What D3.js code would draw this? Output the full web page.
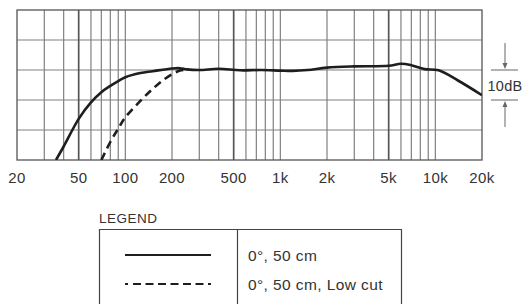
<!DOCTYPE html>
<html><head><meta charset="utf-8">
<script src="https://cdn.jsdelivr.net/npm/d3@7/dist/d3.min.js"></script>
<style>html,body{margin:0;padding:0;background:#fff;}svg{display:block;}</style>
</head><body>
<svg id="c" width="524" height="304"></svg>
<script>
// ---- data ----
const tickFreqs = [20, 50, 100, 200, 500, 1000, 2000, 5000, 10000, 20000];
const tickLabels = ["20", "50", "100", "200", "500", "1k", "2k", "5k", "10k", "20k"];
const gridFreqs = [30,40,50,60,70,80,90,100,200,300,400,500,600,700,800,900,1000,2000,3000,4000,5000,6000,7000,8000,9000,10000];
const majorGrid = [50, 500, 5000];
const dbGrid = [-20, -10, 0, 10];
const solidFreq = [35.7, 40, 50, 60, 70, 80, 90, 100, 125, 150, 200, 225, 250, 300, 400, 550, 750, 1000, 1200, 1500, 2000, 3000, 5000, 6000, 7000, 8500, 10500, 14000, 20000];
const solidDb   = [-30, -25.5, -16.3, -10.8, -7.4, -5.3, -3.7, -2.4, -1.0, -0.4, 0.5, 0.6, 0.2, 0, 0.4, -0.1, 0, -0.2, -0.3, 0, 0.8, 1.2, 1.4, 2.1, 1.6, 0.3, -0.1, -3.5, -8.4];
const dashFreq = [70, 80, 90, 100, 125, 150, 175, 200, 225, 250];
const dashDb   = [-30, -24, -19.5, -15.8, -10.3, -6.3, -3.4, -1.4, -0.2, 0.2];
const legendLabels = ["0°, 50 cm", "0°, 50 cm, Low cut"];

const svg = d3.select("#c");
const font = "Liberation Sans, Arial, sans-serif";
const L = 17, R = 482, T = 10, B = 160;
const x = d3.scaleLog().domain([20, 20000]).range([L, R]);
const y = d3.scaleLinear().domain([-30, 20]).range([B, T]);

// grid
const g = svg.append("g");
g.selectAll("line.h").data(dbGrid).enter().append("line")
  .attr("x1", L).attr("x2", R).attr("y1", d => y(d)).attr("y2", d => y(d))
  .attr("stroke", "#808080").attr("stroke-width", 1.2);
g.selectAll("line.v").data(gridFreqs).enter().append("line")
  .attr("x1", d => x(d)).attr("x2", d => x(d)).attr("y1", T).attr("y2", B)
  .attr("stroke", d => majorGrid.includes(d) ? "#555" : "#808080")
  .attr("stroke-width", d => majorGrid.includes(d) ? 1.7 : 1.2);
g.append("rect").attr("x", L).attr("y", T).attr("width", R - L).attr("height", B - T)
  .attr("fill", "none").attr("stroke", "#555").attr("stroke-width", 1.3);

// x labels
svg.append("g").selectAll("text").data(tickFreqs).enter().append("text")
  .attr("x", d => x(d)).attr("y", 182.5).attr("text-anchor", "middle")
  .attr("font-family", font).attr("font-size", 15).attr("letter-spacing", 0.4)
  .attr("fill", "#333").text((d, i) => tickLabels[i]);

// curves
svg.append("clipPath").attr("id", "clp").append("rect")
  .attr("x", L).attr("y", T).attr("width", R - L).attr("height", B - T);
const line = d3.line().x(d => x(d[0])).y(d => y(d[1])).curve(d3.curveCatmullRom.alpha(0.5));
svg.append("path").attr("clip-path", "url(#clp)")
  .attr("d", line(solidFreq.map((f, i) => [f, solidDb[i]])))
  .attr("fill", "none").attr("stroke", "#1e1e1e").attr("stroke-width", 2.6);
svg.append("path").attr("clip-path", "url(#clp)")
  .attr("d", line(dashFreq.map((f, i) => [f, dashDb[i]])))
  .attr("fill", "none").attr("stroke", "#1e1e1e").attr("stroke-width", 2.6)
  .attr("stroke-dasharray", "8,5");

// 10dB marker
const ann = svg.append("g").attr("stroke", "#666").attr("stroke-width", 1);
const ax = 505;
ann.append("line").attr("x1", 491).attr("x2", 518).attr("y1", y(0)).attr("y2", y(0));
ann.append("line").attr("x1", 491).attr("x2", 518).attr("y1", y(-10)).attr("y2", y(-10));
ann.append("line").attr("x1", ax).attr("x2", ax).attr("y1", 43).attr("y2", y(0) - 4);
ann.append("line").attr("x1", ax).attr("x2", ax).attr("y1", y(-10) + 4).attr("y2", 127);
svg.append("path").attr("d", `M${ax-2.5},${y(0)-7}L${ax+2.5},${y(0)-7}L${ax},${y(0)-1}Z`).attr("fill", "#666");
svg.append("path").attr("d", `M${ax-2.5},${y(-10)+7}L${ax+2.5},${y(-10)+7}L${ax},${y(-10)+1}Z`).attr("fill", "#666");
svg.append("text").attr("x", ax).attr("y", 91).attr("text-anchor", "middle")
  .attr("font-family", font).attr("font-size", 14.5).attr("letter-spacing", 0.3)
  .attr("fill", "#333").text("10dB");

// legend
svg.append("text").attr("x", 99).attr("y", 223).attr("font-family", font)
  .attr("font-size", 13.5).attr("letter-spacing", 0.5).attr("fill", "#333").text("LEGEND");
const lg = svg.append("g");
lg.append("path").attr("d", "M99.5,310V229.5H401.5V310").attr("fill", "none").attr("stroke", "#444").attr("stroke-width", 1.2);
lg.append("line").attr("x1", 237.5).attr("x2", 237.5).attr("y1", 229.5).attr("y2", 310).attr("stroke", "#444").attr("stroke-width", 1.2);
const ly = [255, 284];
lg.append("line").attr("x1", 125).attr("x2", 211).attr("y1", ly[0]).attr("y2", ly[0]).attr("stroke", "#1e1e1e").attr("stroke-width", 2.2);
lg.append("line").attr("x1", 125).attr("x2", 211).attr("y1", ly[1]).attr("y2", ly[1]).attr("stroke", "#1e1e1e").attr("stroke-width", 2.2)
  .attr("stroke-dasharray", "3,5,8,4.5,8,4.5,8,4.5,8,4.5,8,4.5,8,4.5");
lg.selectAll("text").data(legendLabels).enter().append("text")
  .attr("x", 248).attr("y", (d, i) => ly[i] + 5.5).attr("font-family", font)
  .attr("font-size", 15.5).attr("letter-spacing", 0.4).attr("fill", "#333").text(d => d);
</script>
</body></html>
